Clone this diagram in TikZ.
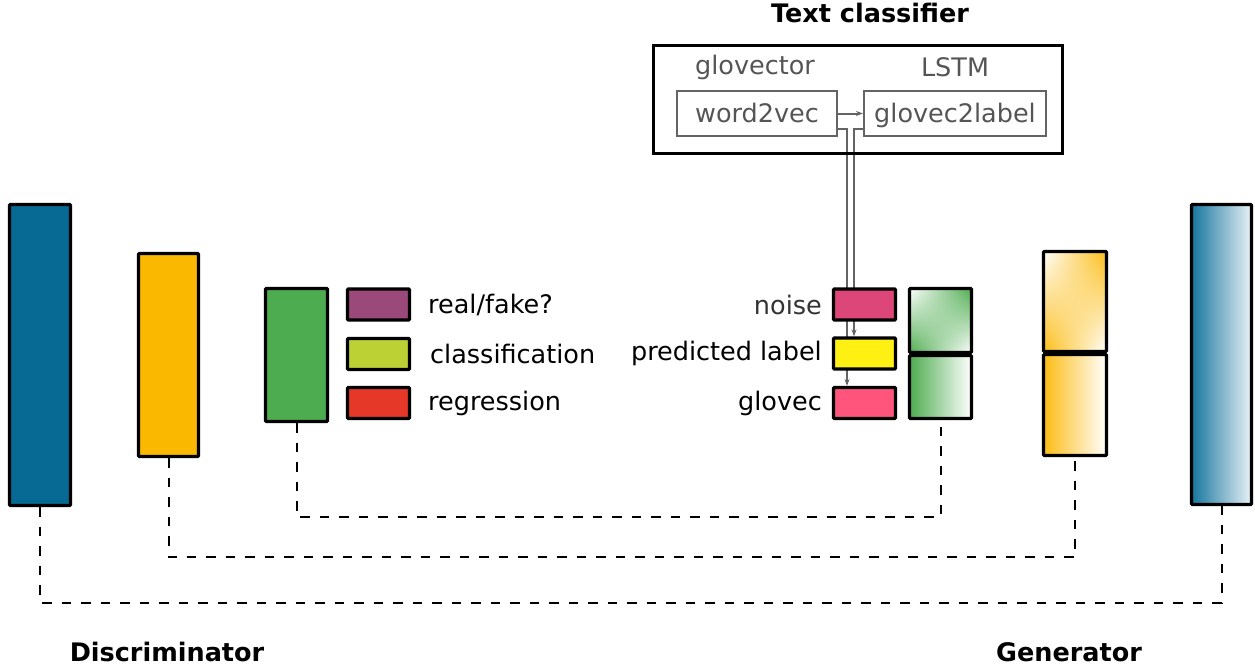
\documentclass[tikz,border=0pt]{standalone}
\usepackage{fontspec}
\setmainfont{DejaVu Sans}
\usetikzlibrary{arrows.meta,backgrounds}
\definecolor{dblue}{RGB}{6,106,148}
\definecolor{gblue}{RGB}{22,118,158}
\definecolor{lblue}{RGB}{232,242,246}
\definecolor{dorange}{RGB}{250,185,0}
\definecolor{gorange}{RGB}{251,188,20}
\definecolor{dgreen}{RGB}{78,172,80}
\definecolor{cpurple}{RGB}{155,72,122}
\definecolor{clime}{RGB}{188,210,52}
\definecolor{cred}{RGB}{230,56,40}
\definecolor{cnoise}{RGB}{220,70,120}
\definecolor{cyellow}{RGB}{255,240,20}
\definecolor{cglovec}{RGB}{255,85,125}
\definecolor{tgray}{RGB}{85,85,85}
\definecolor{lgray}{RGB}{100,100,100}
% bilinear shadings: top row white->colour, bottom row colour->white
\pgfdeclarefunctionalshading{bilgreen}{\pgfpointorigin}{\pgfpoint{100bp}{100bp}}{}{
  25 sub 50 div exch 25 sub 50 div
  2 copy mul 2 mul 3 1 roll add sub 1 add
  dup 0.694 mul 1 exch sub exch
  dup 0.325 mul 1 exch sub exch
  0.686 mul 1 exch sub
}
\pgfdeclarefunctionalshading{bilorange}{\pgfpointorigin}{\pgfpoint{100bp}{100bp}}{}{
  25 sub 50 div exch 25 sub 50 div
  2 copy mul 2 mul 3 1 roll add sub 1 add
  dup 0.016 mul 1 exch sub exch
  dup 0.263 mul 1 exch sub exch
  0.922 mul 1 exch sub
}
\tikzset{
  blk/.style={draw=black,line width=3.2pt,inner sep=0pt,rounded corners=0.8pt},
  small/.style={blk,minimum width=62pt,minimum height=31pt},
  lbl/.style={font=\fontsize{25.5}{30}\selectfont,inner sep=0pt},
  ttl/.style={font=\fontsize{25.5}{30}\selectfont\bfseries,inner sep=0pt},
  gbox/.style={draw=lgray,line width=2pt,inner sep=0pt,text=tgray,font=\fontsize{25.5}{30}\selectfont,text depth=2pt},
  dashline/.style={line width=2pt,dash pattern=on 9.5pt off 10pt},
  gline/.style={draw=lgray,line width=2pt},
  garrow/.style={gline,-{Stealth[length=7pt,width=5pt]}},
}
\begin{document}
\begin{tikzpicture}[x=1pt,y=-1pt]
\useasboundingbox (0,0) rectangle (1255,667);
% discriminator
\node[blk,fill=dblue,minimum width=61pt,minimum height=301pt] (d1) at (40,355) {};
\node[blk,fill=dorange,minimum width=60pt,minimum height=203pt] (d2) at (168.5,355) {};
\node[blk,fill=dgreen,minimum width=62pt,minimum height=133pt] (d3) at (296.5,355) {};
\node[small,fill=cpurple] (rf) at (378.5,304.5) {};
\node[small,fill=clime] (cl) at (378.5,354) {};
\node[small,fill=cred] (rg) at (378.5,403) {};
\node[lbl,anchor=west] at (428,304.5) (rft) {real/fake?};
\node[lbl,anchor=west] at (430,354) (clt) {classification};
\node[lbl,anchor=west] at (428,403) (rgt) {regression};
% generator inputs
\node[small,fill=cnoise] (noise) at (864.5,304.5) {};
\node[small,fill=cyellow] (pred) at (864.5,353.5) {};
\node[small,fill=cglovec] (glovec) at (864.5,403) {};
\node[lbl,anchor=east,text={rgb,255:red,51;green,51;blue,51}] at (822,304.5) (noiset) {noise};
\node[lbl,anchor=east] at (822,353.5) (predt) {predicted label};
\node[lbl,anchor=east] at (822,403) (glovect) {glovec};
% generator
\node[blk,shading=bilgreen,minimum width=62pt,minimum height=64pt] (g3a) at (940.5,320.5) {};
\node[blk,left color=dgreen,right color=white,minimum width=62pt,minimum height=63pt] (g3b) at (940.5,387) {};
\node[blk,shading=bilorange,minimum width=63pt,minimum height=100pt] (g2a) at (1075,301.5) {};
\node[blk,left color=gorange,right color=white,minimum width=63pt,minimum height=101pt] (g2b) at (1075,405) {};
\node[blk,left color=gblue,right color=lblue,minimum width=60pt,minimum height=300pt] (g1) at (1221.5,354.5) {};
% text classifier
\node[draw=black,line width=2.5pt,minimum width=409pt,minimum height=108pt,inner sep=0pt] (tc) at (858,99.5) {};
\node[gbox,minimum width=160pt,minimum height=45pt] (w2v) at (757,113.5) {word2vec};
\node[gbox,minimum width=182pt,minimum height=45pt] (g2l) at (955,113.5) {glovec2label};
\node[lbl,text=tgray] (glt) at (755,67) {glovector};
\node[lbl,text=tgray] (lstm) at (955,67) {LSTM};
\node[ttl] (tct) at (870,13) {Text classifier};
\node[ttl] (disc) at (167,652) {Discriminator};
\node[ttl] (gen) at (1069,652) {Generator};
% connectors
\draw[garrow] (w2v.east) -- (g2l.west);
\begin{scope}[on background layer]
\coordinate (c1) at ([yshift=-15.5pt]w2v.east);
\coordinate (c2) at ([yshift=-15.5pt]g2l.west);
\coordinate (e1) at ([xshift=-17.5pt]glovec.north);
\coordinate (e2) at ([xshift=-10.5pt]pred.north);
\draw[garrow] (c1) -| (e1);
\draw[garrow] (c2) -| (e2);
\end{scope}
\draw[dashline] (d3.south) -- ++(0,94) -| (g3b.south);
\draw[dashline] (d2.south) -- ++(0,99) -| (g2b.south);
\draw[dashline] (d1.south) -- ++(0,95.5) -| (g1.south);
\end{tikzpicture}
\end{document}
